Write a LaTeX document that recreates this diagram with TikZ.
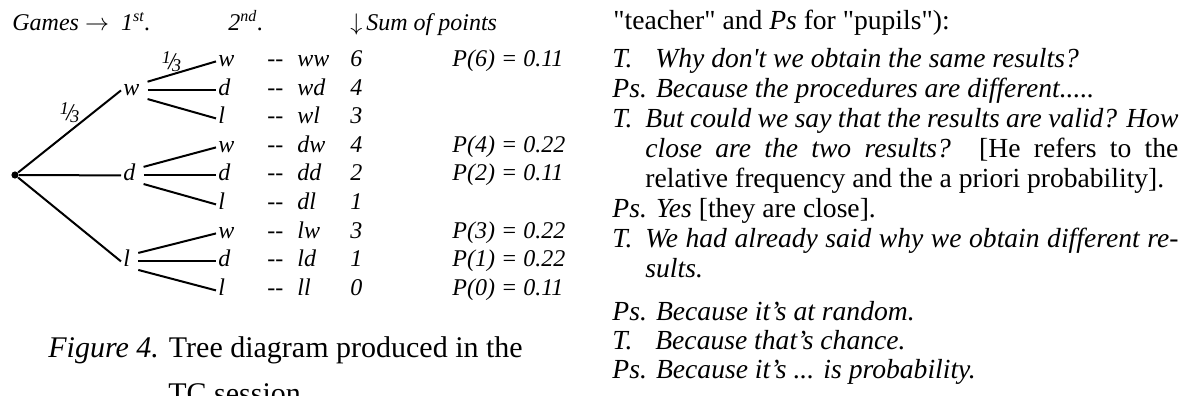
\documentclass[tikz,border=0pt]{standalone}
\usepackage{fontspec}
\setmainfont{Liberation Serif}[Ligatures=TeXOff]

% small slanted fraction one third
\newcommand{\onethird}{\raisebox{.55ex}{\small 1}\kern-.1em/\kern-.12em\raisebox{-.2ex}{\small 3}}

\begin{document}
\begin{tikzpicture}[x=0.5pt, y=-0.5pt,
  tree/.style={anchor=base west, inner sep=0pt, font=\fontsize{12}{14}\selectfont\itshape},
  twig/.style={anchor=base west, inner sep=1pt, text height=1ex, text depth=0pt,
               font=\fontsize{12}{14}\selectfont\itshape},
  talk/.style={anchor=base west, inner sep=0pt, font=\fontsize{13.8}{14}\selectfont}]

\useasboundingbox (0,0) rectangle (1183,396);
\clip (0,0) rectangle (1183,396);

% Column headings of the tree
\node[tree] (games) at (12,30) {Games $\rightarrow$\enspace 1\textsuperscript{st}.};
\node[tree] (second) at (228,30) {2\textsuperscript{nd}.};
\node[tree] (sum) at (350,30) {$\downarrow$\,Sum of points};

% Root and first game (w, d, l)
\node[circle, fill, inner sep=0pt, minimum size=3.6pt] (root) at (15,175) {};
\node[twig] (Aw) at (121, 95) {w};
\node[twig] (Ad) at (121,180) {d};
\node[twig] (Al) at (121,266) {l};

% Second game (leaves)
\node[twig] (ww) at (216, 66) {w};
\node[twig] (wd) at (216, 95) {d};
\node[twig] (wl) at (216,123) {l};
\node[twig] (dw) at (216,152) {w};
\node[twig] (dd) at (216,180) {d};
\node[twig] (dl) at (216,209) {l};
\node[twig] (lw) at (216,238) {w};
\node[twig] (ld) at (216,266) {d};
\node[twig] (ll) at (216,295) {l};

\begin{scope}[line width=1pt]
% Branches of the first game
\draw (root) -- node[midway, above=3pt, inner sep=1pt, font=\fontsize{12}{14}\selectfont\itshape] {\onethird} (Aw.west);
\draw (root) -- (Ad.west);
\draw (root) -- (Al.west);

% Branches of the second game
\draw[shorten <=3pt] (Aw.north east) -- node[pos=.4, above, inner sep=1pt, font=\fontsize{12}{14}\selectfont\itshape] {\onethird} (ww.west);
\draw[shorten <=3pt] (Aw.east) -- (wd.west);
\draw[shorten <=3pt] (Aw.south east) -- (wl.west);
\draw[shorten <=3pt] (Ad.north east) -- (dw.west);
\draw[shorten <=3pt] (Ad.east) -- (dd.west);
\draw[shorten <=3pt] (Ad.south east) -- (dl.west);
\draw[shorten <=3pt] (Al.north east) -- (lw.west);
\draw[shorten <=3pt] (Al.east) -- (ld.west);
\draw[shorten <=3pt] (Al.south east) -- (ll.west);
\end{scope}

% Outcomes, sums and probabilities
\node[tree] at (267, 66) {--}; \node[tree] at (297, 66) {ww}; \node[tree] at (350, 66) {6}; \node[tree] at (452, 66) {P(6) = 0.11};
\node[tree] at (267, 95) {--}; \node[tree] at (297, 95) {wd}; \node[tree] at (350, 95) {4};
\node[tree] at (267,123) {--}; \node[tree] at (297,123) {wl}; \node[tree] at (350,123) {3};
\node[tree] at (267,152) {--}; \node[tree] at (297,152) {dw}; \node[tree] at (350,152) {4}; \node[tree] at (452,152) {P(4) = 0.22};
\node[tree] at (267,180) {--}; \node[tree] at (297,180) {dd}; \node[tree] at (350,180) {2}; \node[tree] at (452,180) {P(2) = 0.11};
\node[tree] at (267,209) {--}; \node[tree] at (297,209) {dl}; \node[tree] at (350,209) {1};
\node[tree] at (267,238) {--}; \node[tree] at (297,238) {lw}; \node[tree] at (350,238) {3}; \node[tree] at (452,238) {P(3) = 0.22};
\node[tree] at (267,266) {--}; \node[tree] at (297,266) {ld}; \node[tree] at (350,266) {1}; \node[tree] at (452,266) {P(1) = 0.22};
\node[tree] at (267,295) {--}; \node[tree] at (297,295) {ll}; \node[tree] at (350,295) {0}; \node[tree] at (452,295) {P(0) = 0.11};

% Caption
\node[talk, font=\fontsize{15}{16}\selectfont] (cap1) at (48,357) {\textit{Figure 4.} Tree diagram produced in the};
\node[talk, font=\fontsize{15}{16}\selectfont] (cap2) at (168,403) {TC session};

% Dialogue
\node[talk] (head) at (613,29) {"teacher" and \textit{Ps} for "pupils"):};
\node[talk] (t1) at (612, 67) {\itshape\makebox[21.5pt][l]{T.}Why don't we obtain the same results?};
\node[talk] (p1) at (612, 97) {\itshape Ps. Because the procedures are different.....};
\node[talk] (t2) at (612,127) {\itshape\makebox[283pt][s]{\makebox[16.5pt][l]{T.}But could we say that the results are valid? How}};
\node[talk] (t2b) at (645,157) {\makebox[266.5pt][s]{\itshape close are the two results? \upshape [He refers to the}};
\node[talk] (t2c) at (645,187) {relative frequency and the a priori probability].};
\node[talk] (p2) at (612,217) {\textit{Ps. Yes} [they are close].};
\node[talk] (t3) at (612,247) {\itshape\makebox[283pt][s]{\makebox[16.5pt][l]{T.}We had already said why we obtain different re-}};
\node[talk] (t3b) at (645,277) {\itshape sults.};
\node[talk] (p3) at (612,320) {\itshape Ps. Because it’s at random.};
\node[talk] (t4) at (612,349) {\itshape\makebox[21.5pt][l]{T.}Because that’s chance.};
\node[talk] (p4) at (612,378) {\itshape Ps. Because it’s ... is probability.};

\end{tikzpicture}
\end{document}
